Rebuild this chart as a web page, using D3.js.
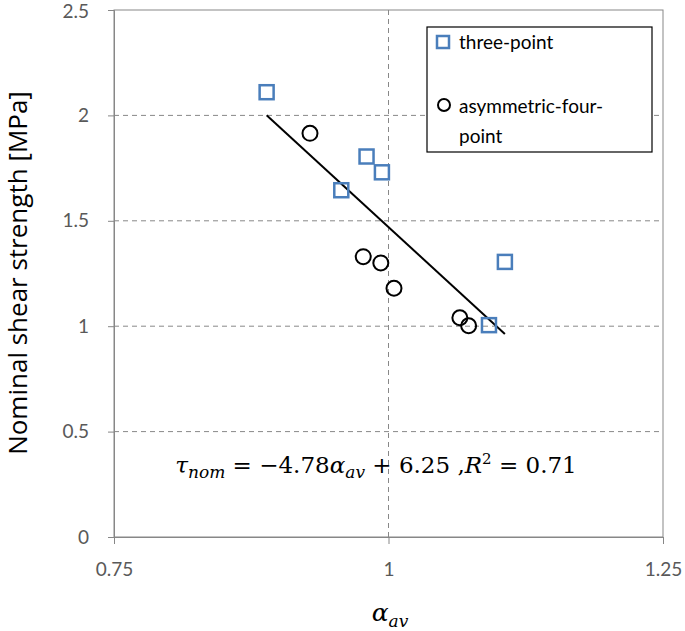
<!DOCTYPE html>
<html><head><meta charset="utf-8">
<script src="https://cdn.jsdelivr.net/npm/d3@7"></script>
<style>body{margin:0;background:#fff}</style>
</head><body>
<svg id="c" width="685" height="631"></svg>
<script>
const threeX = [0.889, 0.980, 0.994, 0.957, 1.106, 1.0915];
const threeY = [2.11, 1.805, 1.73, 1.645, 1.305, 1.005];
const fourX = [0.9285, 0.977, 0.993, 1.005, 1.065, 1.073];
const fourY = [1.915, 1.33, 1.30, 1.18, 1.04, 1.002];
const xTicks = [0.75, 1, 1.25];
const yTicks = [0, 0.5, 1, 1.5, 2, 2.5];
const slope = -4.78, intercept = 6.25;

const svg = d3.select("#c");
const L = 114, R = 663, T = 10, B = 537;
const x = d3.scaleLinear().domain([0.75, 1.25]).range([L, R]);
const y = d3.scaleLinear().domain([0, 2.5]).range([B, T]);
const font = "Lato, 'Open Sans', sans-serif";

// grid
svg.append("g").selectAll("line").data(yTicks.filter(d => d > 0 && d < 2.5)).join("line")
  .attr("x1", L).attr("x2", R).attr("y1", d => y(d)).attr("y2", d => y(d))
  .attr("stroke", "#888").attr("stroke-dasharray", "5,4").attr("stroke-width", 1);
svg.append("g").selectAll("line").data([1]).join("line")
  .attr("y1", T).attr("y2", B).attr("x1", d => x(d)).attr("x2", d => x(d))
  .attr("stroke", "#888").attr("stroke-dasharray", "5,4").attr("stroke-width", 1);

// border
svg.append("rect").attr("x", L).attr("y", T).attr("width", R - L).attr("height", B - T)
  .attr("fill", "none").attr("stroke", "#878787").attr("stroke-width", 1);

// axes
const xa = svg.append("g").attr("transform", `translate(0,${B})`)
  .call(d3.axisBottom(x).tickValues(xTicks).tickSize(7).tickPadding(19).tickFormat(d3.format("")));
const ya = svg.append("g").attr("transform", `translate(${L},0)`)
  .call(d3.axisLeft(y).tickValues(yTicks).tickSize(6).tickPadding(19).tickFormat(d3.format("")));
[xa, ya].forEach(a => {
  a.select(".domain").attr("stroke", "#878787");
  a.selectAll(".tick line").attr("stroke", "#878787");
  a.selectAll(".tick text").attr("fill", "#595959").style("font-family", font).style("font-size", "19px");
});
ya.selectAll(".tick text").filter(d => d === 2.5).attr("dy", "0.38em");

// trend line
const xmin = d3.min(threeX.concat(fourX)), xmax = d3.max(threeX.concat(fourX));
svg.append("line").attr("x1", x(xmin)).attr("y1", y(slope * xmin + intercept))
  .attr("x2", x(xmax)).attr("y2", y(slope * xmax + intercept))
  .attr("stroke", "#000").attr("stroke-width", 2);

// points
const s = 14;
svg.append("g").selectAll("rect").data(threeX.map((d, i) => [d, threeY[i]])).join("rect")
  .attr("x", d => x(d[0]) - s / 2).attr("y", d => y(d[1]) - s / 2).attr("width", s).attr("height", s)
  .attr("fill", "none").attr("stroke", "#4a7ebb").attr("stroke-width", 2.5);
svg.append("g").selectAll("circle").data(fourX.map((d, i) => [d, fourY[i]])).join("circle")
  .attr("cx", d => x(d[0])).attr("cy", d => y(d[1])).attr("r", 7.5)
  .attr("fill", "none").attr("stroke", "#000").attr("stroke-width", 2);

// legend
const lg = svg.append("g");
lg.append("rect").attr("x", 427).attr("y", 27).attr("width", 225).attr("height", 125)
  .attr("fill", "#fff").attr("stroke", "#000").attr("stroke-width", 1.2);
lg.append("rect").attr("x", 437).attr("y", 36).attr("width", 12).attr("height", 12)
  .attr("fill", "none").attr("stroke", "#4a7ebb").attr("stroke-width", 2.5);
lg.append("circle").attr("cx", 444).attr("cy", 105).attr("r", 6)
  .attr("fill", "none").attr("stroke", "#000").attr("stroke-width", 2);
const lt = lg.append("text").style("font-family", font).style("font-size", "19px").attr("fill", "#000");
lt.append("tspan").attr("x", 459).attr("y", 49).text("three-point");
lt.append("tspan").attr("x", 459).attr("y", 113).text("asymmetric-four-");
lt.append("tspan").attr("x", 459).attr("y", 143).text("point");

// axis titles
svg.append("text").attr("transform", `translate(27,273) rotate(-90)`)
  .attr("text-anchor", "middle").style("font-family", "'Open Sans', sans-serif").style("font-size", "26px")
  .attr("fill", "#000").text("Nominal shear strength [MPa]");
const xt = svg.append("text").attr("x", 390).attr("y", 621).attr("text-anchor", "middle")
  .style("font-family", "'DejaVu Serif', serif").style("font-style", "italic").style("font-size", "25px");
xt.append("tspan").text("α");
xt.append("tspan").attr("dy", 6).style("font-size", "17px").text("av");

// equation
const eq = svg.append("text").attr("x", 376).attr("y", 473).attr("text-anchor", "middle")
  .style("font-family", "'DejaVu Serif', serif").style("font-size", "23px").attr("fill", "#000");
eq.append("tspan").style("font-style", "italic").text("τ");
eq.append("tspan").attr("dy", 5).style("font-style", "italic").style("font-size", "17px").text("nom");
eq.append("tspan").attr("dy", -5).text(" = −4.78");
eq.append("tspan").style("font-style", "italic").text("α");
eq.append("tspan").attr("dy", 5).style("font-style", "italic").style("font-size", "17px").text("av");
eq.append("tspan").attr("dy", -5).text(" + 6.25 ,");
eq.append("tspan").style("font-style", "italic").text("R");
eq.append("tspan").attr("dy", -9).style("font-size", "15px").text("2");
eq.append("tspan").attr("dy", 9).text(" = 0.71");
</script>
</body></html>
